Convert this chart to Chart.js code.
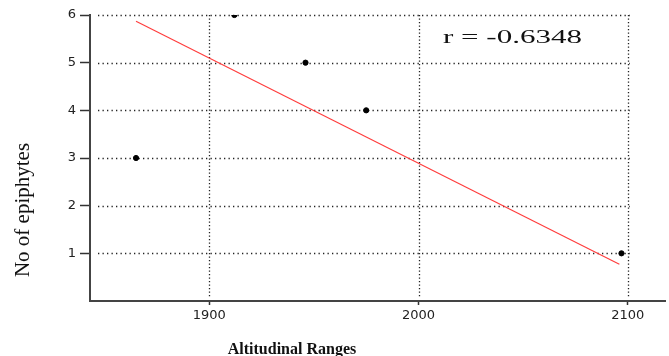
<!DOCTYPE html>
<html>
<head>
<meta charset="utf-8">
<script src="https://cdn.jsdelivr.net/npm/chart.js@4/dist/chart.umd.min.js"></script>
<style>
  html, body { margin: 0; padding: 0; background: #fff; }
  #wrap { width: 669px; height: 356px; }
</style>
</head>
<body>
<div id="wrap"><canvas id="chart"></canvas></div>
<script>
// altitude (m) vs number of epiphytes
const ALTITUDES = [1865, 1912, 1946, 1975, 2097];
const EPIPHYTES = [3, 6, 5, 4, 1];

// fitted line end points
const FIT_X = [1865, 2096];
const FIT_Y = [5.87, 0.77];

const X_TICKS = [1900, 2000, 2100];
const Y_TICKS = [1, 2, 3, 4, 5, 6];

const R_LABEL = "r = -0.6348";
const X_TITLE = "Altitudinal Ranges";
const Y_TITLE = "No of epiphytes";

const el = (id) => document.getElementById(id);

function seg(ctx, x1, y1, x2, y2){
  ctx.beginPath();
  ctx.moveTo(x1, y1);
  ctx.lineTo(x2, y2);
  ctx.stroke();
}

// dotted grid (stops at the last x tick) + free text
const extras = {
  id: "extras",
  beforeDatasetsDraw(c){
    const { ctx, chartArea: a, scales: { x, y } } = c;
    const xEnd = x.getPixelForValue(X_TICKS[X_TICKS.length - 1]) + 2;
    ctx.save();
    ctx.strokeStyle = "#222";
    ctx.lineWidth = 1.3;
    ctx.setLineDash([1.3, 3.2]);
    for (const v of Y_TICKS){
      const py = Math.round(y.getPixelForValue(v)) + 0.5;
      seg(ctx, a.left + 8, py, xEnd, py);
    }
    ctx.setLineDash([1.3, 2.2]);
    for (const v of X_TICKS){
      const px = Math.round(x.getPixelForValue(v)) + 0.5;
      seg(ctx, px, a.top, px, a.bottom - 3);
    }
    ctx.restore();
  },
  afterDraw(c){
    const { ctx } = c;
    ctx.save();
    ctx.fillStyle = "#111";

    // r value, stretched to the width it has in the picture
    ctx.font = "19px 'Liberation Serif', serif";
    ctx.textBaseline = "alphabetic";
    const w = ctx.measureText(R_LABEL).width;
    ctx.save();
    ctx.translate(443, 43);
    ctx.scale(139 / w, 1);
    ctx.fillText(R_LABEL, 0, 0);
    ctx.restore();

    // x title
    ctx.font = "bold 16px 'Liberation Serif', serif";
    ctx.textAlign = "center";
    ctx.fillText(X_TITLE, 292, 354);

    // y title
    ctx.save();
    ctx.translate(29, 210);
    ctx.rotate(-Math.PI / 2);
    ctx.font = "21px 'Liberation Serif', serif";
    ctx.textAlign = "center";
    ctx.fillText(Y_TITLE, 0, 0);
    ctx.restore();

    ctx.restore();
  }
};

function loadChart(){
  Chart.defaults.font.family = "'DejaVu Sans', sans-serif";
  Chart.defaults.color = "#222";

  const ctx = el("chart").getContext("2d");
  return new Chart(ctx, {
    data: {
      datasets: [
        {
          type: "scatter",
          data: ALTITUDES.map((a, i) => ({ x: a, y: EPIPHYTES[i] })),
          backgroundColor: "#000",
          borderColor: "#000",
          pointRadius: 2.6,
          pointHoverRadius: 2.6,
          order: 0
        },
        {
          type: "line",
          data: FIT_X.map((a, i) => ({ x: a, y: FIT_Y[i] })),
          borderColor: "#ff3b3b",
          borderWidth: 1.1,
          pointRadius: 0,
          fill: false,
          order: 1
        }
      ]
    },
    options: {
      responsive: true,
      maintainAspectRatio: false,
      animation: false,
      events: [],
      layout: { padding: { top: 15, right: 0, left: 0, bottom: 0 } },
      plugins: {
        legend: { display: false },
        tooltip: { enabled: false }
      },
      scales: {
        x: {
          type: "linear",
          min: 1843,
          max: 2118,
          afterBuildTicks: (s) => { s.ticks = X_TICKS.map(v => ({ value: v })); },
          afterFit: (s) => { s.height = 55; },
          ticks: { font: { size: 13 }, padding: 3, color: "#222", callback: (v) => String(v) },
          grid: { drawOnChartArea: false, drawTicks: true, tickLength: 4, tickColor: "#333", tickWidth: 1.5 },
          border: { display: true, color: "#444", width: 2 }
        },
        y: {
          type: "linear",
          min: 0,
          max: 6,
          afterBuildTicks: (s) => { s.ticks = Y_TICKS.map(v => ({ value: v })); },
          afterFit: (s) => { s.width = 90; },
          ticks: { font: { size: 13 }, padding: 4, color: "#222", callback: (v) => String(v) },
          grid: { drawOnChartArea: false, drawTicks: true, tickLength: 10, tickColor: "#333", tickWidth: 1.5 },
          border: { display: true, color: "#444", width: 2 }
        }
      }
    },
    plugins: [extras]
  });
}

loadChart();
</script>
</body>
</html>
